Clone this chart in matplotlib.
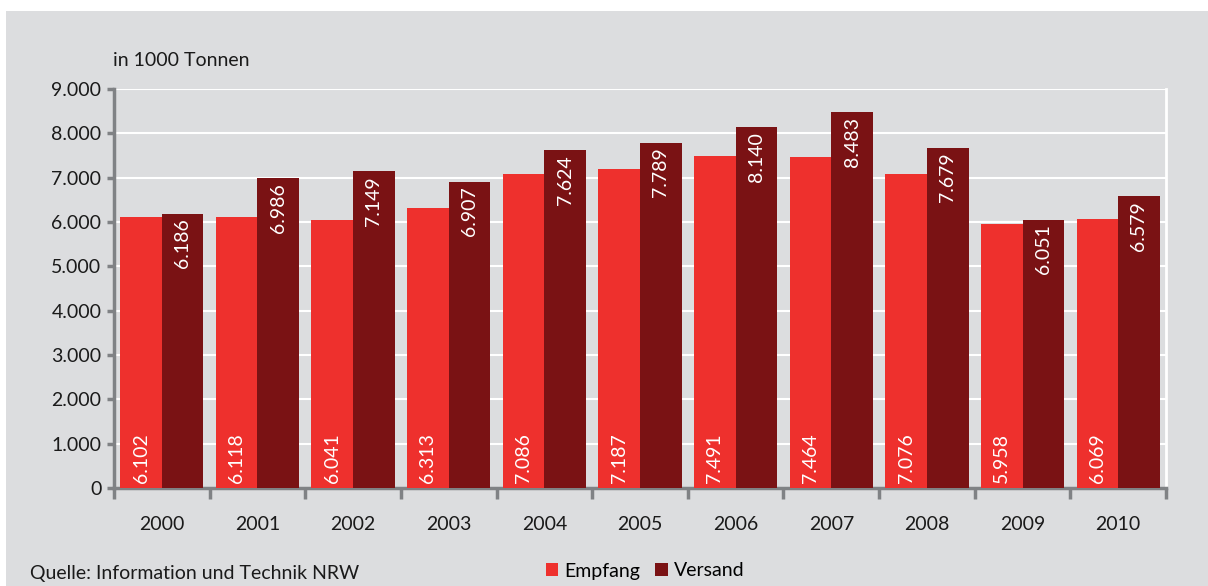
import matplotlib
matplotlib.use("Agg")
import matplotlib.pyplot as plt
from matplotlib.patches import Rectangle
import numpy as np

years = ["2000", "2001", "2002", "2003", "2004", "2005", "2006", "2007", "2008", "2009", "2010"]
empfang = [6102, 6118, 6041, 6313, 7086, 7187, 7491, 7464, 7076, 5958, 6069]
versand = [6186, 6986, 7149, 6907, 7624, 7789, 8140, 8483, 7679, 6051, 6579]
yticks = [0, 1000, 2000, 3000, 4000, 5000, 6000, 7000, 8000, 9000]
series_names = ["Empfang", "Versand"]
unit_label = "in 1000 Tonnen"
source_text = "Quelle: Information und Technik NRW"

C_EMP = "#EE302D"
C_VER = "#7A1214"
BG = "#DCDDDF"
SPINE = "#808285"
FS = 14

plt.rcParams['font.family'] = ['Lato', 'DejaVu Sans']

def fmt(v):
    return f"{v:,}".replace(",", ".")

fig = plt.figure(figsize=(12.08, 5.86), dpi=100)
fig.patch.set_facecolor("white")
fig.patches.append(Rectangle((6 / 1208, 0), 1, 1 - 11 / 586, transform=fig.transFigure,
                             facecolor=BG, edgecolor="none", zorder=-10))

ax = fig.add_axes([114 / 1208, 1 - 488 / 586, (1166 - 114) / 1208, (488 - 89) / 586])
ax.set_facecolor(BG)

x = np.arange(len(years))
w = 0.435
b1 = ax.bar(x - w / 2, empfang, w, color=C_EMP, label=series_names[0], zorder=3)
b2 = ax.bar(x + w / 2, versand, w, color=C_VER, label=series_names[1], zorder=3)

for xi, v in zip(x, empfang):
    ax.text(xi - w / 2, 120, fmt(v), rotation=90, ha="center", va="bottom",
            color="white", fontsize=FS, zorder=4)
for xi, v in zip(x, versand):
    ax.text(xi + w / 2, v - 110, fmt(v), rotation=90, ha="center", va="top",
            color="white", fontsize=FS, zorder=4)

ax.set_xlim(-0.5, len(years) - 0.5)
ax.set_ylim(0, 9000)
ax.set_yticks(yticks)
ax.set_yticklabels([fmt(t) for t in yticks], fontsize=FS, color="#1a1a1a")
ax.yaxis.grid(True, color="white", linewidth=1.5, zorder=0)
ax.set_axisbelow(True)

ax.set_xticks(x)
ax.set_xticklabels(years, fontsize=FS, color="#1a1a1a")
ax.set_xticks(np.arange(-0.5, len(years)), minor=True)
ax.tick_params(axis="x", which="major", length=0, pad=20)
ax.tick_params(axis="x", which="minor", length=8, width=2.5, color=SPINE, direction="out")
ax.tick_params(axis="y", length=5, width=2.5, color=SPINE, pad=4)

for s in ["left", "bottom"]:
    ax.spines[s].set_color(SPINE)
    ax.spines[s].set_linewidth(2.5)
ax.spines["top"].set_visible(False)
ax.spines["right"].set_color("white")
ax.spines["right"].set_linewidth(2)

fig.text(113 / 1208, 1 - 60 / 586, unit_label, ha="left", va="center", fontsize=FS, color="#1a1a1a")
fig.text(30 / 1208, 1 - 573 / 586, source_text, ha="left", va="center", fontsize=FS, color="#1a1a1a")

leg = fig.legend(handles=[b1, b2], labels=series_names, loc="center",
                 bbox_to_anchor=(645 / 1208, 1 - 571 / 586), ncol=2, frameon=False,
                 fontsize=FS, handlelength=0.65, handleheight=0.65, handletextpad=0.3,
                 columnspacing=0.8)

fig.savefig("out.png", dpi=100, facecolor=fig.get_facecolor())
